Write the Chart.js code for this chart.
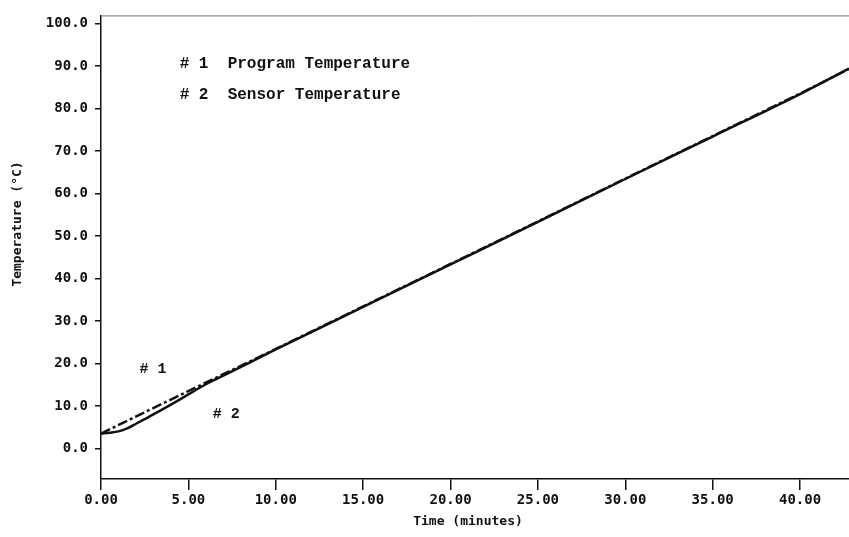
<!DOCTYPE html>
<html>
<head>
<meta charset="utf-8">
<script src="https://cdn.jsdelivr.net/npm/chart.js@4/dist/chart.umd.min.js"></script>
<style>
  html, body { margin: 0; padding: 0; background: #fff; }
  #wrap { width: 849px; height: 537px; position: relative; }
</style>
</head>
<body>
<div id="wrap"><canvas id="tempChart" width="849" height="537"></canvas></div>
<script>
// ===== data =====
const programTime = [0, 5, 10, 15, 20, 25, 30, 35, 40, 42.8];
const programTemp = [3.5, 13.5, 23.4, 33.4, 43.4, 53.4, 63.5, 73.5, 83.5, 89.3];

const sensorTime = [0, 0.5, 1, 1.5, 2, 2.5, 3, 4, 5, 6, 7, 10, 15, 20, 25, 30, 35, 40, 42.8];
const sensorTemp = [3.5, 3.7, 4.0, 4.7, 5.8, 6.9, 8.0, 10.3, 12.7, 15.1, 17.1, 23.3, 33.3, 43.3, 53.3, 63.4, 73.4, 83.4, 89.4];

const xTickValues = [0, 5, 10, 15, 20, 25, 30, 35, 40];
const yTickValues = [0, 10, 20, 30, 40, 50, 60, 70, 80, 90, 100];

const seriesNames = ['Program Temperature', 'Sensor Temperature'];

// 图中的文字标注（数据坐标）
const curveNotes = [
  { text: '# 1', x: 2.2, y: 18.6 },
  { text: '# 2', x: 6.4, y: 8.1 }
];
const legendNotes = [
  { text: '# 1  ' + seriesNames[0], x: 4.5, y: 90.5 },
  { text: '# 2  ' + seriesNames[1], x: 4.5, y: 83.2 }
];

const toPoints = (xs, ys) => xs.map((x, i) => ({ x: x, y: ys[i] }));

const tickFont = { family: '"DejaVu Sans Mono", monospace', size: 14, weight: 'bold' };

// 文字、标题、上边框
const textPlugin = {
  id: 'textPlugin',
  afterDraw(chart) {
    const { ctx, chartArea, scales } = chart;
    const xs = scales.x, ys = scales.y;
    ctx.save();

    // top frame line (faint)
    ctx.strokeStyle = '#777';
    ctx.lineWidth = 1;
    ctx.beginPath();
    ctx.moveTo(chartArea.left, chartArea.top + 0.5);
    ctx.lineTo(chartArea.right, chartArea.top + 0.5);
    ctx.stroke();

    ctx.fillStyle = '#111';
    ctx.textBaseline = 'middle';
    ctx.textAlign = 'left';

    ctx.font = 'bold 16px "Liberation Mono", monospace';
    legendNotes.forEach(n => {
      ctx.fillText(n.text, xs.getPixelForValue(n.x), ys.getPixelForValue(n.y));
    });

    ctx.font = 'bold 15px "Liberation Mono", monospace';
    curveNotes.forEach(n => {
      ctx.fillText(n.text, xs.getPixelForValue(n.x), ys.getPixelForValue(n.y));
    });

    // axis titles
    ctx.font = 'bold 13px "DejaVu Sans Mono", monospace';
    ctx.textAlign = 'center';
    ctx.fillText('Time (minutes)', 468, chartArea.bottom + 43);

    ctx.translate(18, 224);
    ctx.rotate(-Math.PI / 2);
    ctx.fillText('Temperature (\u00B0C)', 0, 0);

    ctx.restore();
  }
};

new Chart(document.getElementById('tempChart'), {
  type: 'scatter',
  data: {
    datasets: [
      {
        label: seriesNames[0],
        data: toPoints(programTime, programTemp),
        showLine: true,
        borderColor: '#111',
        borderWidth: 2.5,
        borderDash: [10, 3, 3, 3],
        pointRadius: 0,
        fill: false
      },
      {
        label: seriesNames[1],
        data: toPoints(sensorTime, sensorTemp),
        showLine: true,
        borderColor: '#111',
        borderWidth: 2.5,
        cubicInterpolationMode: 'monotone',
        pointRadius: 0,
        fill: false
      }
    ]
  },
  options: {
    responsive: false,
    animation: false,
    events: [],
    layout: { padding: { top: 9, right: 0, left: 0, bottom: 0 } },
    plugins: {
      legend: { display: false },
      tooltip: { enabled: false },
      title: { display: false }
    },
    scales: {
      x: {
        type: 'linear',
        min: 0,
        max: 42.8,
        afterBuildTicks: (scale) => { scale.ticks = xTickValues.map(v => ({ value: v })); },
        afterFit: (scale) => { scale.height = 58; },
        grid: { drawOnChartArea: false, tickLength: 11, color: '#111', lineWidth: 1.5 },
        border: { display: true, color: '#111', width: 1.5 },
        ticks: {
          color: '#111',
          font: tickFont,
          padding: 2,
          maxRotation: 0,
          autoSkip: false,
          callback: (v) => Number(v).toFixed(2)
        }
      },
      y: {
        type: 'linear',
        min: -7.2,
        max: 101.9,
        afterBuildTicks: (scale) => { scale.ticks = yTickValues.map(v => ({ value: v })); },
        afterFit: (scale) => { scale.width = 101; },
        grid: { drawOnChartArea: false, tickLength: 6, color: '#111', lineWidth: 1.5 },
        border: { display: true, color: '#111', width: 1.5 },
        ticks: {
          color: '#111',
          font: tickFont,
          padding: 7,
          autoSkip: false,
          callback: (v) => Number(v).toFixed(1)
        }
      }
    }
  },
  plugins: [textPlugin]
});
</script>
</body>
</html>
